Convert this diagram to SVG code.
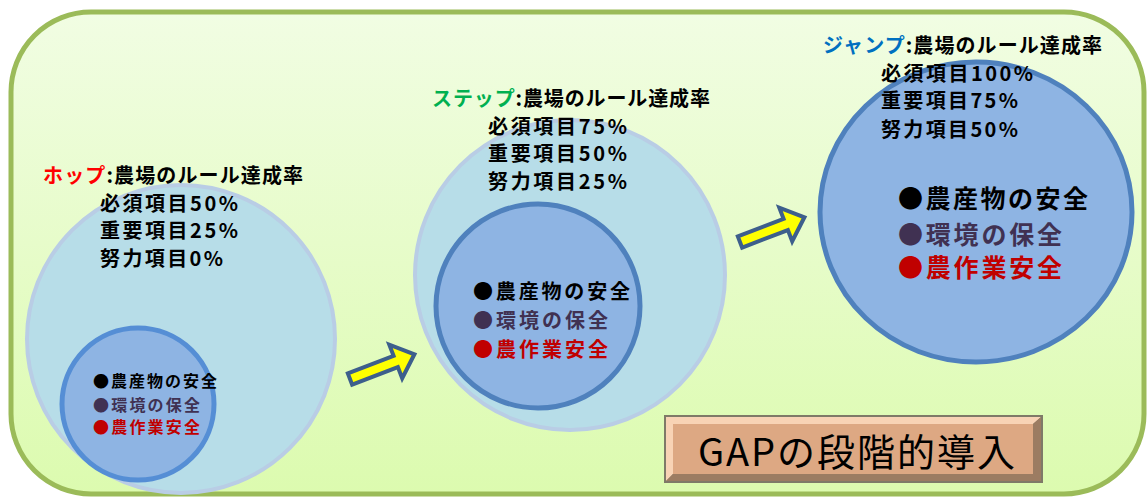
<svg xmlns="http://www.w3.org/2000/svg" width="1148" height="497" viewBox="0 0 1148 497">
<defs>
<linearGradient id="bg" x1="0" y1="0" x2="0" y2="1">
<stop offset="0" stop-color="#F1FDE3"/>
<stop offset="1" stop-color="#DCFBAF"/>
</linearGradient>
<style>
.big{fill:#B7DDE8;stroke:#B9CDE5;stroke-width:4}
.inner{fill:#8EB4E3;stroke-width:5}
.t{font-family:"Noto Sans CJK JP","Noto Sans",sans-serif;font-weight:bold;fill:#000}
.pur{fill:#403152}
.red{fill:#C00000}
.arrow{fill:#FFFF00;stroke:#3D5F8C;stroke-width:4;stroke-linejoin:miter}
</style>
</defs>
<rect x="0" y="0" width="1148" height="497" fill="#FFFFFF"/>
<rect id="frame" x="11" y="12" width="1133" height="482" rx="80" ry="80" fill="url(#bg)" stroke="#9BBB59" stroke-width="5"/>

<g id="hop">
<circle class="big" cx="181" cy="339" r="154"/>
<circle class="inner" cx="138" cy="404" r="76" stroke="#558ED5"/>
<text class="t" x="43" y="183" font-size="20" textLength="260" lengthAdjust="spacing"><tspan fill="#FF0000">ホップ</tspan>:農場のルール達成率</text>
<text class="t" x="100" y="211" font-size="20" textLength="138" lengthAdjust="spacing">必須項目50%</text>
<text class="t" x="100" y="238" font-size="20" textLength="138" lengthAdjust="spacing">重要項目25%</text>
<text class="t" x="100" y="266" font-size="20" textLength="123" lengthAdjust="spacing">努力項目0%</text>
<text class="t" x="93" y="387" font-size="16" textLength="124" lengthAdjust="spacing">●農産物の安全</text>
<text class="t pur" x="93" y="411" font-size="16" textLength="107" lengthAdjust="spacing">●環境の保全</text>
<text class="t red" x="93" y="433" font-size="16" textLength="107" lengthAdjust="spacing">●農作業安全</text>
</g>

<g id="step">
<circle class="big" cx="570" cy="275" r="155"/>
<circle class="inner" cx="538" cy="306" r="102" stroke="#4F81BD"/>
<text class="t" x="432" y="106" font-size="20" textLength="278" lengthAdjust="spacing"><tspan fill="#00B050">ステップ</tspan>:農場のルール達成率</text>
<text class="t" x="488" y="134" font-size="20" textLength="139" lengthAdjust="spacing">必須項目75%</text>
<text class="t" x="488" y="161" font-size="20" textLength="139" lengthAdjust="spacing">重要項目50%</text>
<text class="t" x="488" y="189" font-size="20" textLength="139" lengthAdjust="spacing">努力項目25%</text>
<text class="t" x="473" y="299" font-size="20" textLength="157" lengthAdjust="spacing">●農産物の安全</text>
<text class="t pur" x="473" y="328" font-size="20" textLength="135" lengthAdjust="spacing">●環境の保全</text>
<text class="t red" x="473" y="357" font-size="20" textLength="135" lengthAdjust="spacing">●農作業安全</text>
</g>

<g id="jump">
<ellipse class="inner" cx="976" cy="212" rx="156" ry="150" stroke="#4F81BD"/>
<text class="t" x="823" y="53" font-size="20" textLength="279" lengthAdjust="spacing"><tspan fill="#0070C0">ジャンプ</tspan>:農場のルール達成率</text>
<text class="t" x="881" y="81" font-size="20" textLength="152" lengthAdjust="spacing">必須項目100%</text>
<text class="t" x="881" y="108" font-size="20" textLength="137" lengthAdjust="spacing">重要項目75%</text>
<text class="t" x="881" y="137" font-size="20" textLength="137" lengthAdjust="spacing">努力項目50%</text>
<text class="t" x="898" y="208" font-size="25" textLength="190" lengthAdjust="spacing">●農産物の安全</text>
<text class="t pur" x="898" y="244" font-size="25" textLength="164" lengthAdjust="spacing">●環境の保全</text>
<text class="t red" x="898" y="277" font-size="25" textLength="164" lengthAdjust="spacing">●農作業安全</text>
</g>

<g id="connectors">
<polygon class="arrow" transform="translate(350,379) rotate(-21)" points="0,-6 49,-6 49,-18 69,0 49,18 49,6 0,6"/>
<polygon class="arrow" transform="translate(740,242) rotate(-21)" points="0,-6 49,-6 49,-18 69,0 49,18 49,6 0,6"/>
</g>

<g id="title">
<rect x="664" y="415" width="379" height="68" fill="#7F7A68"/>
<polygon points="666,417 1041,417 1033,424 673,424 673,474 666,481" fill="#F8D3B5"/>
<polygon points="1041,417 1041,481 666,481 673,474 1033,474 1033,424" fill="#9C7C62"/>
<rect x="673" y="424" width="360" height="50" fill="#DDA883"/>
<text x="698" y="466" font-family="'Noto Sans CJK JP','Noto Sans',sans-serif" font-size="38" fill="#000" textLength="317" lengthAdjust="spacing">GAPの段階的導入</text>
</g>
</svg>
